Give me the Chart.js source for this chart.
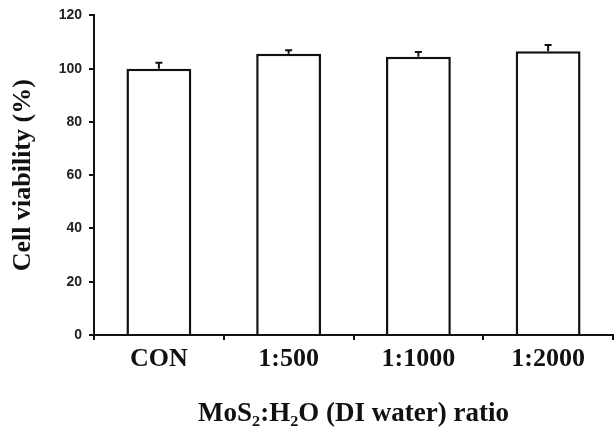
<!DOCTYPE html>
<html>
<head>
<meta charset="utf-8">
<script src="https://cdn.jsdelivr.net/npm/chart.js@4"></script>
<style>
  html, body { margin: 0; padding: 0; background: #fff; }
  #wrap { width: 616px; height: 434px; }
</style>
</head>
<body>
<div id="wrap"><canvas id="chart-viability"></canvas></div>
<script>
const categories = ['CON', '1:500', '1:1000', '1:2000'];
const viability = [100, 105.6, 104.5, 106.5];
const viabilityErr = [2.2, 1.3, 1.8, 2.4];
const yTicks = [0, 20, 40, 60, 80, 100, 120];

// upward-only error bars with a small cap
const errorBars = {
  id: 'errorBars',
  afterDatasetsDraw(chart) {
    const meta = chart.getDatasetMeta(0);
    const y = chart.scales.y;
    const ctx = chart.ctx;
    ctx.save();
    ctx.strokeStyle = '#111';
    ctx.lineWidth = 2;
    meta.data.forEach((bar, i) => {
      const top = y.getPixelForValue(viability[i] + viabilityErr[i]);
      ctx.beginPath();
      ctx.moveTo(bar.x, bar.y);
      ctx.lineTo(bar.x, top);
      ctx.moveTo(bar.x - 3.5, top);
      ctx.lineTo(bar.x + 3.5, top);
      ctx.stroke();
    });
    ctx.restore();
  }
};

const ctx = document.getElementById('chart-viability').getContext('2d');
new Chart(ctx, {
  type: 'bar',
  data: {
    labels: categories,
    datasets: [{
      data: viability,
      backgroundColor: '#fff',
      borderColor: '#111',
      borderWidth: 2.5,
      barPercentage: 0.5,
      categoryPercentage: 1
    }]
  },
  options: {
    responsive: true,
    maintainAspectRatio: false,
    animation: false,
    layout: { padding: { top: 15, right: 3, left: 0, bottom: 0 } },
    plugins: { legend: { display: false }, tooltip: { enabled: false } },
    scales: {
      x: {
        afterFit(scale) { scale.height = 99; },
        grid: { offset: true, drawOnChartArea: false, drawTicks: true, tickLength: 5, color: '#111', lineWidth: 2 },
        border: { color: '#111', width: 2 },
        ticks: { color: '#111', padding: 4, font: { family: 'Liberation Serif', size: 26, weight: 'bold' } },
        title: {
          display: true,
          text: 'MoS\u2082:H\u2082O (DI water) ratio',
          color: '#111',
          padding: { top: 0, bottom: 4 },
          font: { family: 'Liberation Serif', size: 27, weight: 'bold' }
        }
      },
      y: {
        min: 0,
        max: 120,
        afterFit(scale) { scale.width = 94; },
        afterBuildTicks(scale) { scale.ticks = yTicks.map(v => ({ value: v })); },
        grid: { drawOnChartArea: false, drawTicks: true, tickLength: 5, color: '#111', lineWidth: 2 },
        border: { color: '#111', width: 2 },
        ticks: { color: '#222', padding: 7, font: { family: 'Liberation Sans', size: 14, weight: 'bold' } },
        title: {
          display: true,
          text: 'Cell viability (%)',
          color: '#111',
          padding: { top: 8, bottom: 0 },
          font: { family: 'Liberation Serif', size: 26, weight: 'bold' }
        }
      }
    }
  },
  plugins: [errorBars]
});
</script>
</body>
</html>
